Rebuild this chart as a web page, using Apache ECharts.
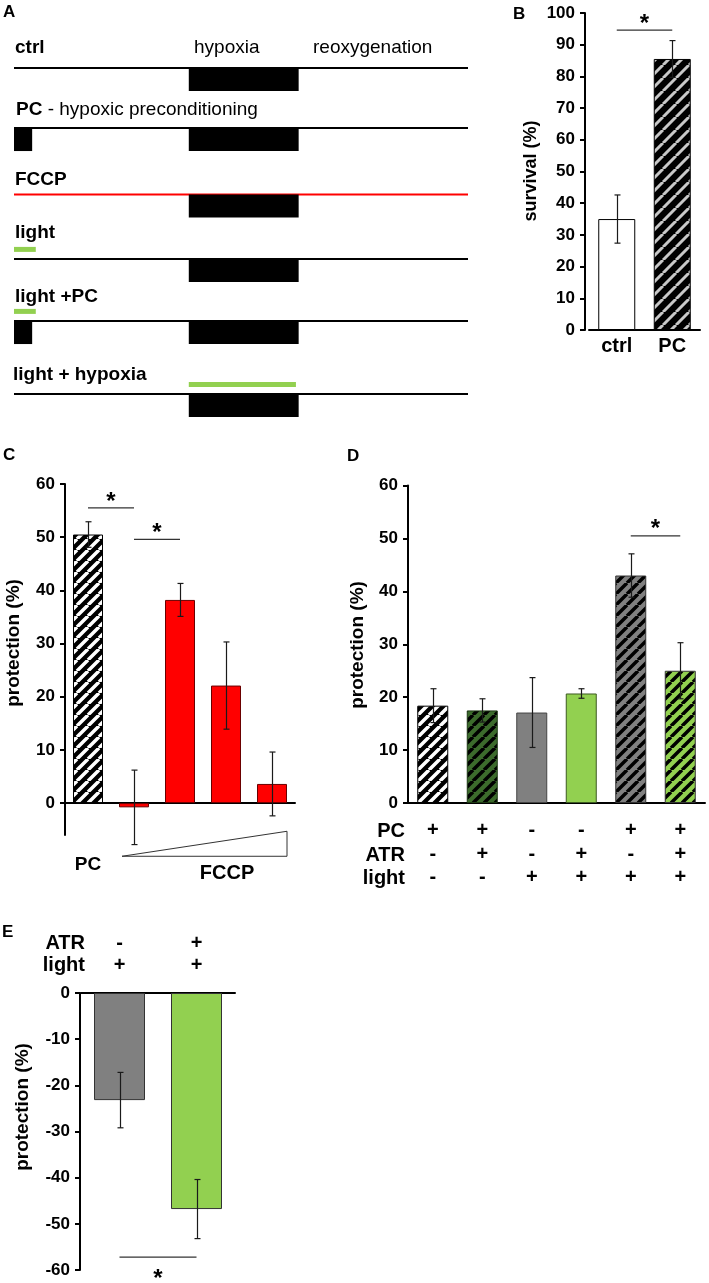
<!DOCTYPE html>
<html><head><meta charset="utf-8">
<script src="https://cdn.jsdelivr.net/npm/echarts@6/dist/echarts.min.js"></script>
<style>html,body{margin:0;padding:0;background:#fff}#c{width:709px;height:1283px}</style>
</head><body><div id="c"></div>
<script>
// ---------------- data ----------------
// Panel A: protocol schematic (time in % of protocol)
const protoRows = ['ctrl', 'PC', 'FCCP', 'light', 'light +PC', 'light + hypoxia'];
const hypoxiaWin = [38.5, 62.7];
const pcWin = [0, 4];
const lightPreWin = [0, 4.8];
const rowPC = [0, 1, 0, 0, 1, 0];
const rowFCCP = [0, 0, 1, 0, 0, 0];
const rowLight = [0, 0, 0, 1, 1, 2]; // 1 = light before, 2 = light during hypoxia

// Panel B
const bCats = ['ctrl', 'PC'];
const bMean = [35, 85.5];
const bErr = [7.6, 5.8];
const bSig = [[0, 1, 94.6]];

// Panel C
const cCats = ['PC', 'FCCP 1', 'FCCP 2', 'FCCP 3', 'FCCP 4'];
const cMean = [50.5, -0.8, 38.2, 22.1, 3.6];
const cErr = [2.4, 7.0, 3.1, 8.2, 6.0];
const cSig = [[0, 1, 55.5], [1, 2, 49.6]];
const cTicks = [0, 10, 20, 30, 40, 50, 60];

// Panel D
const dPC = ['+', '+', '-', '-', '+', '+'];
const dATR = ['-', '+', '-', '+', '-', '+'];
const dLight = ['-', '-', '+', '+', '+', '+'];
const dMean = [18.4, 17.5, 17.1, 20.7, 43.0, 25.0];
const dErr = [3.2, 2.2, 6.6, 0.9, 4.1, 5.3];
const dSig = [[4, 5, 50.5]];

// Panel E
const eATR = ['-', '+'];
const eLight = ['+', '+'];
const eMean = [-23.2, -46.8];
const eErr = [6.0, 6.4];
const eSig = [[0, 1, -57.2]];

// ---------------- styles ----------------
const FONT = '"Liberation Sans", Arial, Helvetica, sans-serif';
function stripes(bg, fg, period, width) {
  const c = document.createElement('canvas');
  c.width = period; c.height = period;
  const ctx = c.getContext('2d');
  ctx.fillStyle = bg; ctx.fillRect(0, 0, period, period);
  ctx.strokeStyle = fg; ctx.lineWidth = width;
  ctx.beginPath();
  for (const o of [-period, 0, period]) { ctx.moveTo(o, period); ctx.lineTo(o + period, 0); }
  ctx.stroke();
  return { image: c, repeat: 'repeat' };
}
const RED = '#ff0000', GRAY = '#808080', LGREEN = '#92d050', DGREEN = '#3c6b2c';
const bStyles = [
  { color: '#ffffff', borderColor: '#000', borderWidth: 1 },
  { color: stripes('#000', '#c8c8c8', 13, 3), borderColor: '#000', borderWidth: 1 }
];
const cStyles = [
  { color: stripes('#000', '#ffffff', 11, 3.5), borderColor: '#000', borderWidth: 1 },
  { color: RED, borderColor: '#6a0000', borderWidth: 1 },
  { color: RED, borderColor: '#6a0000', borderWidth: 1 },
  { color: RED, borderColor: '#6a0000', borderWidth: 1 },
  { color: RED, borderColor: '#6a0000', borderWidth: 1 }
];
const dStyles = [
  { color: stripes('#000', '#ffffff', 11, 3.5), borderColor: '#000', borderWidth: 1 },
  { color: stripes(DGREEN, '#000', 11, 3.5), borderColor: '#1e3a14', borderWidth: 1 },
  { color: GRAY, borderColor: '#444', borderWidth: 1 },
  { color: LGREEN, borderColor: '#3d5a22', borderWidth: 1 },
  { color: stripes(GRAY, '#000', 11, 3.5), borderColor: '#333', borderWidth: 1 },
  { color: stripes(LGREEN, '#000', 11, 3.5), borderColor: '#333', borderWidth: 1 }
];
const eStyles = [
  { color: GRAY, borderColor: '#333', borderWidth: 1 },
  { color: LGREEN, borderColor: '#333', borderWidth: 1 }
];

// ---------------- layout ----------------
const rowBase = [68, 128, 194.5, 259, 321, 394];
const grids = [], xAxes = [], yAxes = [], series = [];

// Panel A grids
protoRows.forEach((name, r) => {
  grids.push({ left: 14, width: 454, top: rowBase[r] - 24, height: 48, outerBoundsMode: 'none' });
  xAxes.push({ type: 'value', gridIndex: r, min: 0, max: 100, show: false });
  yAxes.push({ type: 'value', gridIndex: r, min: -1, max: 1, inverse: true, show: false });
  const items = [[0, 100, 0], [hypoxiaWin[0], hypoxiaWin[1], 1]];
  if (rowPC[r]) items.push([pcWin[0], pcWin[1], 1]);
  if (rowLight[r] === 1) items.push([lightPreWin[0], lightPreWin[1], 2]);
  if (rowLight[r] === 2) items.push([hypoxiaWin[0], hypoxiaWin[1] - 0.6, 2]);
  series.push({
    type: 'custom', xAxisIndex: r, yAxisIndex: r, silent: true,
    encode: { x: [0, 1] },
    data: items,
    renderItem: (params, api) => {
      const s = api.value(0), e = api.value(1), k = api.value(2);
      if (k === 0) {
        const a = api.coord([s, 0]), b = api.coord([e, 0]);
        return { type: 'line', shape: { x1: a[0], y1: a[1], x2: b[0], y2: b[1] },
          style: { stroke: rowFCCP[r] ? RED : '#000', lineWidth: 2 } };
      }
      if (k === 1) {
        const a = api.coord([s, 0]), b = api.coord([e, 0.96]);
        return { type: 'rect', shape: { x: a[0], y: a[1], width: b[0] - a[0], height: b[1] - a[1] },
          style: { fill: '#000' } };
      }
      const a = api.coord([s, -0.4]), b = api.coord([e, -0.4]);
      return { type: 'rect', shape: { x: a[0], y: a[1] - 2.5, width: b[0] - a[0], height: 5 },
        style: { fill: LGREEN } };
    }
  });
});

function valueAxis(gi, min, max, interval, extra) {
  return Object.assign({
    type: 'value', gridIndex: gi, min: min, max: max, interval: interval,
    axisLine: { show: true, onZero: false, lineStyle: { color: '#000', width: 2 } },
    axisTick: { show: true, length: 5, lineStyle: { color: '#000', width: 2 } },
    axisLabel: { fontSize: 17, fontWeight: 'bold', color: '#000', fontFamily: FONT, margin: 10 },
    splitLine: { show: false }
  }, extra || {});
}
function catAxis(gi, cats, extra) {
  return Object.assign({
    type: 'category', gridIndex: gi, data: cats,
    axisLine: { show: true, onZero: true, lineStyle: { color: '#000', width: 2 } },
    axisTick: { show: false },
    axisLabel: { fontSize: 20, fontWeight: 'bold', color: '#000', fontFamily: FONT, margin: 8 },
    splitLine: { show: false }
  }, extra || {});
}
function barSeries(gi, means, styles, width) {
  return { type: 'bar', xAxisIndex: gi, yAxisIndex: gi, barWidth: width, silent: true,
    data: means.map((m, i) => ({ value: m, itemStyle: styles[i] })) };
}
function errSeries(gi, means, errs) {
  return { type: 'custom', xAxisIndex: gi, yAxisIndex: gi, silent: true, z: 5,
    encode: { x: 0, y: 1 },
    data: means.map((m, i) => [i, m, errs[i]]),
    renderItem: (params, api) => {
      const i = api.value(0), m = api.value(1), e = api.value(2);
      const t = api.coord([i, m + e]), b = api.coord([i, m - e]);
      const x = Math.round(t[0]) + 0.5;
      const st = { stroke: '#1a1a1a', lineWidth: 1.2 };
      return { type: 'group', children: [
        { type: 'line', shape: { x1: x, y1: t[1], x2: x, y2: b[1] }, style: st },
        { type: 'line', shape: { x1: x - 3, y1: t[1], x2: x + 3, y2: t[1] }, style: st },
        { type: 'line', shape: { x1: x - 3, y1: b[1], x2: x + 3, y2: b[1] }, style: st }
      ] };
    } };
}
function sigSeries(gi, sig, starDy) {
  return { type: 'custom', xAxisIndex: gi, yAxisIndex: gi, silent: true, z: 6,
    encode: { x: 0, y: 2 },
    data: sig,
    renderItem: (params, api) => {
      const a = api.coord([api.value(0), api.value(2)]);
      const b = api.coord([api.value(1), api.value(2)]);
      return { type: 'group', children: [
        { type: 'line', shape: { x1: a[0], y1: a[1], x2: b[0], y2: b[1] }, style: { stroke: '#333', lineWidth: 1.2 } },
        { type: 'text', x: (a[0] + b[0]) / 2, y: a[1] + starDy,
          style: { text: '*', fontSize: 24, fontWeight: 'bold', fontFamily: FONT, fill: '#000', align: 'center', verticalAlign: 'middle' } }
      ] };
    } };
}

// Panel B (index 6)
grids.push({ left: 589, top: 13, width: 111, height: 317, outerBoundsMode: 'none' });
xAxes.push(catAxis(6, bCats, { axisLabel: { fontSize: 20, fontWeight: 'bold', color: '#000', fontFamily: FONT, margin: 6 } }));
yAxes.push(valueAxis(6, 0, 100, 10, { offset: 4 }));
series.push(barSeries(6, bMean, bStyles, 37), errSeries(6, bMean, bErr), sigSeries(6, bSig, -6));

// Panel C (index 7)
grids.push({ left: 65, top: 484, width: 230, height: 351, outerBoundsMode: 'none' });
xAxes.push(catAxis(7, cCats, { axisLabel: { fontSize: 19, fontWeight: 'bold', color: '#000', fontFamily: FONT, margin: 20,
  formatter: (v, i) => (i === 0 ? v : '') } }));
yAxes.push(valueAxis(7, -6, 60, null, {
  axisLabel: { fontSize: 17, fontWeight: 'bold', color: '#000', fontFamily: FONT, margin: 10, customValues: cTicks },
  axisTick: { show: true, length: 5, lineStyle: { color: '#000', width: 2 }, customValues: cTicks } }));
series.push(barSeries(7, cMean, cStyles, 30), errSeries(7, cMean, cErr), sigSeries(7, cSig, -6));
// FCCP concentration wedge
series.push({ type: 'custom', xAxisIndex: 7, yAxisIndex: 7, silent: true, encode: { x: 0, y: 2 },
  data: [[1, 4, -10, -5.3]],
  renderItem: (params, api) => {
    const a = api.coord([api.value(0), api.value(2)]);
    const b = api.coord([api.value(1), api.value(2)]);
    const c = api.coord([api.value(1), api.value(3)]);
    const hw = 15;
    return { type: 'polygon', shape: { points: [[a[0] - hw + 3, a[1]], [b[0] + hw, b[1]], [c[0] + hw, c[1]]] },
      style: { fill: '#fff', stroke: '#333', lineWidth: 1 } };
  } });

// Panel D (index 8)
grids.push({ left: 408, top: 485.6, width: 297, height: 317.4, outerBoundsMode: 'none' });
xAxes.push(catAxis(8, dPC.map((_, i) => 'g' + i), { axisLabel: { fontSize: 20, fontWeight: 'bold', color: '#000', fontFamily: FONT,
  margin: 16, lineHeight: 23.5, formatter: (v, i) => [dPC[i], dATR[i], dLight[i]].join('\n') } }));
yAxes.push(valueAxis(8, 0, 60, 10));
series.push(barSeries(8, dMean, dStyles, 31), errSeries(8, dMean, dErr), sigSeries(8, dSig, -6));

// Panel E (index 9)
grids.push({ left: 81, top: 993, width: 154, height: 277, outerBoundsMode: 'none' });
xAxes.push(catAxis(9, eATR.map((_, i) => 'g' + i), { position: 'top', axisLabel: { fontSize: 20, fontWeight: 'bold', color: '#000', fontFamily: FONT,
  margin: 17, lineHeight: 22, formatter: (v, i) => [eATR[i], eLight[i]].join('\n') } }));
yAxes.push(valueAxis(9, -60, 0, 10, { offset: 1 }));
series.push(barSeries(9, eMean, eStyles, 51), errSeries(9, eMean, eErr), sigSeries(9, eSig, 22));

// ---------------- text annotations ----------------
function txt(x, y, text, opt) {
  return { type: 'text', x: x, y: y, silent: true, rotation: (opt && opt.rot) || 0,
    style: Object.assign({ text: text, fontFamily: FONT, fontSize: 19, fontWeight: 'bold', fill: '#000',
      align: 'left', verticalAlign: 'middle' }, (opt && opt.style) || {}) };
}
const rowLabelY = [47.5, 110, 180, 233, 297, 375];
const graphics = [
  txt(3, 12, 'A', { style: { fontSize: 17 } }),
  txt(513, 14, 'B', { style: { fontSize: 17 } }),
  txt(3, 455, 'C', { style: { fontSize: 17 } }),
  txt(347, 456, 'D', { style: { fontSize: 17 } }),
  txt(2, 932, 'E', { style: { fontSize: 17 } }),
  txt(194, rowLabelY[0], 'hypoxia', { style: { fontWeight: 'normal' } }),
  txt(313, rowLabelY[0], 'reoxygenation', { style: { fontWeight: 'normal' } }),
  txt(531, 171, 'survival (%)', { rot: Math.PI / 2, style: { align: 'center', fontSize: 18 } }),
  txt(14, 643, 'protection (%)', { rot: Math.PI / 2, style: { align: 'center' } }),
  txt(358, 645, 'protection (%)', { rot: Math.PI / 2, style: { align: 'center' } }),
  txt(23, 1107, 'protection (%)', { rot: Math.PI / 2, style: { align: 'center' } }),
  txt(227, 873, 'FCCP', { style: { align: 'center', fontSize: 20 } }),
  txt(405, 831, 'PC', { style: { align: 'right', fontSize: 20 } }),
  txt(405, 855, 'ATR', { style: { align: 'right', fontSize: 20 } }),
  txt(405, 878, 'light', { style: { align: 'right', fontSize: 20 } }),
  txt(85, 943, 'ATR', { style: { align: 'right', fontSize: 20 } }),
  txt(85, 965, 'light', { style: { align: 'right', fontSize: 20 } })
];
protoRows.forEach((name, r) => {
  if (name === 'PC') {
    graphics.push(txt(16, rowLabelY[r], '{b|PC} - hypoxic preconditioning', { style: { fontWeight: 'normal',
      rich: { b: { fontWeight: 'bold', fontSize: 19, fontFamily: FONT } } } }));
  } else {
    graphics.push(txt(r === 5 ? 13 : 15, rowLabelY[r], name));
  }
});

const chart = echarts.init(document.getElementById('c'), null, { renderer: 'canvas' });
chart.setOption({
  backgroundColor: '#ffffff',
  animation: false,
  grid: grids, xAxis: xAxes, yAxis: yAxes, series: series,
  graphic: graphics
});
</script></body></html>
